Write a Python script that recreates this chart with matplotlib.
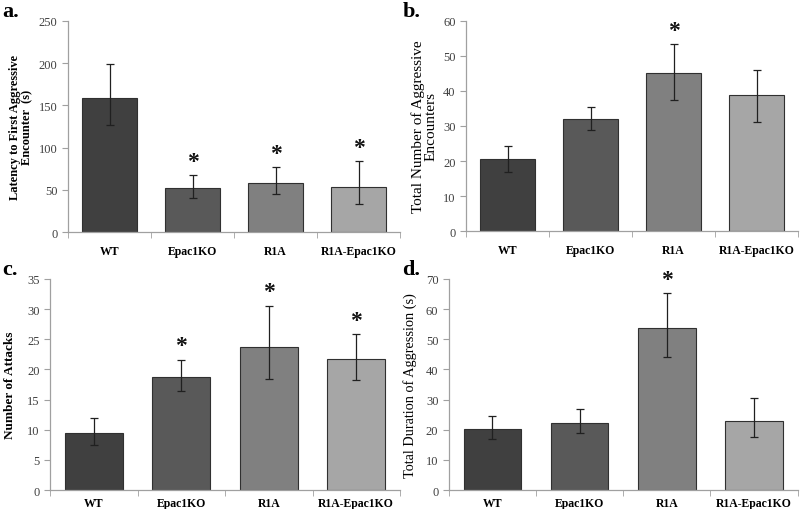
import numpy as np
import matplotlib
matplotlib.use("Agg")
import matplotlib.pyplot as plt

plt.rcParams['font.family'] = ['Liberation Serif', 'DejaVu Serif']

groups = ['WT', 'Epac1KO', 'R1A', 'R1A-Epac1KO']
bar_colors = ['#404040', '#595959', '#808080', '#a6a6a6']

# a. latency
lat_mean = [159, 52, 58.4, 52.8]
lat_lo = [32, 12, 13.8, 20]
lat_hi = [40, 15.8, 18.9, 31.2]
lat_star = [False, True, True, True]

# b. total encounters
enc_mean = [20.5, 32.1, 45.2, 38.8]
enc_lo = [3.5, 3.3, 7.7, 7.8]
enc_hi = [3.8, 3.4, 8.3, 7.1]
enc_star = [False, False, True, False]

# c. attacks
att_mean = [9.4, 18.8, 23.75, 21.8]
att_lo = [1.9, 2.3, 5.25, 3.5]
att_hi = [2.6, 2.85, 6.85, 4.1]
att_star = [False, True, True, True]

# d. duration
dur_mean = [20.2, 22.4, 53.7, 23.0]
dur_lo = [3.4, 3.3, 9.5, 5.3]
dur_hi = [4.3, 4.4, 11.5, 7.7]
dur_star = [False, False, True, False]

fig = plt.figure(figsize=(8, 5.1), dpi=100)


def panel(rect, mean, lo, hi, star, ymax, step, ylabel, ylab_kw, letter, letter_xy, xpad):
    ax = fig.add_axes(rect)
    x = np.arange(len(groups))
    ax.bar(x, mean, width=0.66, color=bar_colors, edgecolor='#303030', linewidth=0.8, zorder=2)
    ax.errorbar(x, mean, yerr=[lo, hi], fmt='none', ecolor='#202020',
                elinewidth=0.9, capsize=3, capthick=0.9, zorder=3)
    for i in range(len(groups)):
        if star[i]:
            ax.text(x[i], mean[i] + hi[i] + ymax * 0.065, '*', ha='center', va='center',
                    fontsize=17, fontweight='bold', color='#111111')
    ax.set_xlim(-0.5, 3.5)
    ax.set_ylim(0, ymax)
    ax.set_yticks(np.arange(0, ymax + 0.1, step))
    ax.set_xticks(x)
    ax.set_xticklabels(groups, fontweight='bold', fontsize=8.5)
    ax.set_xticks(np.arange(-0.5, 4, 1), minor=True)
    ax.tick_params(axis='x', which='major', length=0, pad=xpad)
    ax.tick_params(axis='x', which='minor', length=4, color='#a0a0a0', direction='out')
    ax.tick_params(axis='y', length=4, color='#a0a0a0', labelsize=9, labelcolor='#404040')
    for s in ['top', 'right']:
        ax.spines[s].set_visible(False)
    for s in ['left', 'bottom']:
        ax.spines[s].set_color('#a0a0a0')
        ax.spines[s].set_linewidth(0.9)
    ax.set_ylabel(ylabel, **ylab_kw)
    fig.text(letter_xy[0], letter_xy[1], letter, fontsize=16, fontweight='bold',
             ha='left', va='top')
    return ax


panel([0.085, 0.543, 0.415, 0.414], lat_mean, lat_lo, lat_hi, lat_star, 250, 50,
      'Latency to First Aggressive\nEncounter  (s)',
      dict(fontsize=9, fontweight='bold', labelpad=4, linespacing=1.0),
      'a.', (0.003, 0.997), 9)
panel([0.5825, 0.545, 0.415, 0.412], enc_mean, enc_lo, enc_hi, enc_star, 60, 10,
      'Total Number of Aggressive\nEncounters',
      dict(fontsize=11, labelpad=4, linespacing=1.0),
      'b.', (0.503, 0.997), 9)
panel([0.0625, 0.037, 0.4375, 0.414], att_mean, att_lo, att_hi, att_star, 35, 5,
      'Number of Attacks',
      dict(fontsize=9.5, fontweight='bold', labelpad=8),
      'c.', (0.003, 0.49), 5)
panel([0.561, 0.037, 0.436, 0.414], dur_mean, dur_lo, dur_hi, dur_star, 70, 10,
      'Total Duration of Aggression (s)',
      dict(fontsize=10.3, labelpad=6),
      'd.', (0.503, 0.49), 5)

fig.savefig('out.png', dpi=100)
